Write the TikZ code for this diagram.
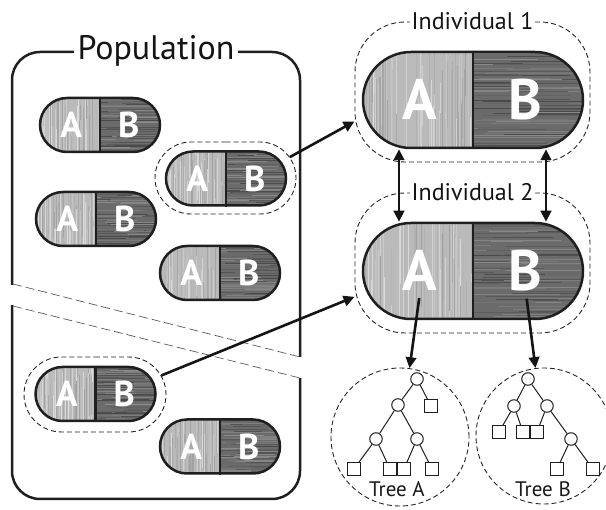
\documentclass[tikz,border=0pt]{standalone}
\usepackage{fontspec}
\setmainfont{PT Sans}
\newfontfamily\pillfont{PT Sans}
\usetikzlibrary{shapes.misc,arrows.meta,calc}

% Wood-like grain inside a two-part pill: vertical light streaks on the
% left half, horizontal dark streaks on the right half.
\newcommand\grainfill[2]{%
  \begin{scope}[shift={(path picture bounding box.center)}]
    \fill[black!27] (-#1/2,-#2/2) rectangle (0,#2/2);
    \fill[black!58] (0,-#2/2) rectangle (#1/2,#2/2);
    \begin{scope}
      \clip (-#1/2,-#2/2) rectangle (0,#2/2);
      \foreach \k in {1,...,80}{%
        \pgfmathsetmacro\gx{-(#1/2)*rnd}%
        \pgfmathsetmacro\gs{int(14+rnd*24)}%
        \pgfmathsetmacro\gw{0.2+rnd*0.9}%
        \pgfmathsetmacro\ga{(rnd-0.8)*#2}%
        \pgfmathsetmacro\gb{\ga+#2*(0.6+rnd)}%
        \draw[line width=\gw pt, black!\gs] (\gx,\ga) -- (\gx,\gb);
      }
    \end{scope}
    \begin{scope}
      \clip (0,-#2/2) rectangle (#1/2,#2/2);
      \foreach \k in {1,...,90}{%
        \pgfmathsetmacro\gy{(rnd-0.5)*#2}%
        \pgfmathsetmacro\gs{int(46+rnd*26)}%
        \pgfmathsetmacro\gw{0.2+rnd*0.9}%
        \pgfmathsetmacro\ga{(rnd-0.4)*#1/2}%
        \pgfmathsetmacro\gb{\ga+#1/2*(0.4+rnd)}%
        \draw[line width=\gw pt, black!\gs] (\ga,\gy) -- (\gb,\gy);
      }
    \end{scope}
  \end{scope}
}

\tikzset{
  x=1pt, y=-1pt,
  pill/.style 2 args={rounded rectangle, draw=black!88, line width=2.5pt,
    minimum width=#1pt, minimum height=#2pt, inner sep=0pt,
    path picture={\grainfill{#1}{#2}}},
  pilledge/.style={draw=black!88, line width=2.3pt},
  letter/.style={text=white, inner sep=0pt, anchor=base},
  frame/.style={draw=black!85, line width=0.9pt, dash pattern=on 5pt off 3pt},
  ringframe/.style={frame, rounded rectangle, inner sep=0pt},
  indframe/.style={frame, rectangle, rounded corners=50pt, inner sep=0pt,
    minimum width=235pt, minimum height=140pt},
  label/.style={fill=white, inner sep=2pt, text=black!92},
  arrow/.style={draw=black!92, line width=2.6pt, -{Triangle[length=11pt,width=10.5pt]}},
  twoway/.style={draw=black!92, line width=2.6pt,
    {Triangle[length=11pt,width=10.5pt]}-{Triangle[length=11pt,width=10.5pt]}},
  tc/.style={circle, draw=black!88, line width=1pt, minimum size=12.5pt, inner sep=0pt},
  ts/.style={rectangle, draw=black!88, line width=1pt, minimum size=12.5pt, inner sep=0pt},
  tedge/.style={draw=black!88, line width=1pt},
  cutline/.style={draw=black!65, line width=0.7pt, dash pattern=on 9pt off 4pt},
}

% name, x, y, width, height, letter size
\newcommand\pillAB[6]{%
  \node[pill={#4}{#5}] (#1) at (#2,#3) {};
  \draw[pilledge] (#1.north) -- (#1.south);
  \node[letter, font=\pillfont\bfseries\fontsize{#6}{#6}\selectfont] (#1A)
    at ([xshift=-#4*0.24pt, yshift=-#6*0.35pt]#1.center) {A};
  \node[letter, font=\pillfont\bfseries\fontsize{#6}{#6}\selectfont] (#1B)
    at ([xshift=#4*0.24pt, yshift=-#6*0.35pt]#1.center) {B};
}

\begin{document}
\begin{tikzpicture}
\pgfmathsetseed{4711}
\useasboundingbox (0,0) rectangle (606,510);

% ---- population box ----
\node[draw=black!88, line width=2.5pt, rounded corners=28pt, minimum width=288pt,
      minimum height=447pt, inner sep=0pt] (popbox) at (156,275.5) {};
\fill[white] (8,285) rectangle (17,305);
\fill[white] (295,357) rectangle (305,378);
\draw[cutline] (13,284) -- (300,357);
\draw[cutline] (13,306) -- (300,378);
\node[label, font=\fontsize{34}{34}\selectfont, inner xsep=4pt] (poplabel) at (popbox.north) {Population};

% ---- individuals in the population ----
\pillAB{p1}{100}{125}{120}{54}{36}
\pillAB{p2}{226}{178.5}{120}{54}{36}
\pillAB{p3}{96}{219}{120}{54}{36}
\pillAB{p4}{220}{273}{120}{54}{36}
\pillAB{p5}{95.5}{394}{120}{54}{36}
\pillAB{p6}{220}{446.5}{120}{54}{36}

\node[ringframe, minimum width=141pt, minimum height=72pt] (p2box) at (225.5,178) {};
\node[ringframe, minimum width=142pt, minimum height=75pt] (p5box) at (95,394.5) {};

% ---- selected individuals ----
\node[indframe] (ind1box) at (472.5,92) {};
\node[indframe] (ind2box) at (472.5,263) {};
\node[label, font=\fontsize{24}{24}\selectfont] (ind1label) at (ind1box.north) {Individual 1};
\node[label, font=\fontsize{24}{24}\selectfont] (ind2label) at (ind2box.north) {Individual 2};

\pillAB{ind1}{473}{100}{220}{96}{57}
\pillAB{ind2}{473}{271}{220}{96}{57}

% ---- connectors ----
\draw[arrow] (p2box.18) -- (ind1box.194);
\draw[arrow] (p5box.16) -- (ind2box.196);
\draw[twoway] ([xshift=-74pt]ind1.south) -- ([xshift=-74pt]ind2.north);
\draw[twoway] ([xshift=73pt]ind1.south) -- ([xshift=73pt]ind2.north);

% ---- trees ----
\node[frame, circle, minimum size=138pt, inner sep=0pt] (treeA) at (400,437) {};
\node[frame, circle, minimum size=136pt, inner sep=0pt] (treeB) at (544,436) {};

\draw[arrow, shorten <=7pt] (ind2A.south) -- (treeA);
\draw[arrow, shorten <=7pt] (ind2B.south) -- (treeB);

\node[tc] (a0) at (417,379) {};
\node[tc] (a1) at (398,405) {};
\node[ts] (a2) at (431,406) {};
\node[tc] (a3) at (376,439) {};
\node[tc] (a4) at (417,439) {};
\node[ts] (a5) at (354,469) {};
\node[ts] (a6) at (390,469) {};
\node[ts] (a7) at (404,469) {};
\node[ts] (a8) at (432,469) {};
\foreach \u/\v in {a0/a1,a0/a2,a1/a3,a1/a4,a3/a5,a3/a6,a4/a7,a4/a8}
  \draw[tedge] (\u) -- (\v);

\node[tc] (b0) at (528,379) {};
\node[tc] (b1) at (514,406) {};
\node[tc] (b2) at (547,406) {};
\node[ts] (b3) at (499,432) {};
\node[ts] (b4) at (523,432) {};
\node[ts] (b5) at (537,432) {};
\node[tc] (b6) at (571,439) {};
\node[ts] (b7) at (557,469) {};
\node[ts] (b8) at (593,469) {};
\foreach \u/\v in {b0/b1,b0/b2,b1/b3,b1/b4,b2/b5,b2/b6,b6/b7,b6/b8}
  \draw[tedge] (\u) -- (\v);

\node[font=\fontsize{21}{21}\selectfont, text=black!90] (treeAlabel) at (397,489) {Tree A};
\node[font=\fontsize{21}{21}\selectfont, text=black!90] (treeBlabel) at (543,489) {Tree B};
\end{tikzpicture}
\end{document}
